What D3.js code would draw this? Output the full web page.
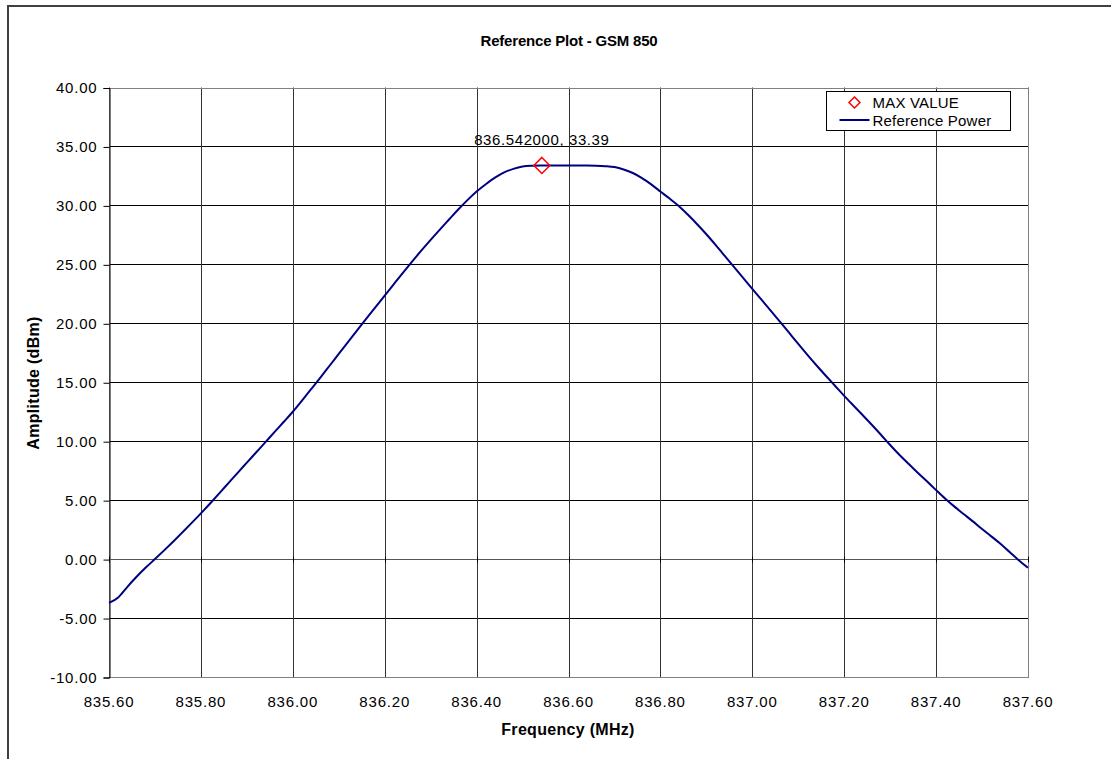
<!DOCTYPE html>
<html>
  <head>
    <meta charset="utf-8">
    <title>Reference Plot - GSM 850</title>
    <script src="https://d3js.org/d3.v7.min.js"></script>
    <style>
      body { margin: 0; background: #fff; }
      svg, svg text { font-family: "Liberation Sans", Arial, sans-serif; }
    </style>
  </head>
  <body>
    <script>
      // amplitude (dBm) every 0.02 MHz from 835.60 to 837.60
      const freqStart = 835.60;
      const freqStep = 0.02;
      const amplitude = [
        -3.72, -3.25, -2.35, -1.50, -0.72, 0.00, 0.74, 1.50, 2.28, 3.07,
        3.88, 4.72, 5.58, 6.45, 7.32, 8.18, 9.04, 9.90, 10.77, 11.63,
        12.50, 13.45, 14.42, 15.40, 16.40, 17.40, 18.40, 19.40, 20.40, 21.38,
        22.35, 23.33, 24.30, 25.25, 26.18, 27.08, 27.95, 28.80, 29.65, 30.45,
        31.18, 31.80, 32.35, 32.80, 33.10, 33.30, 33.37, 33.39, 33.38, 33.38,
        33.38, 33.38, 33.38, 33.37, 33.33, 33.25, 33.05, 32.75, 32.32, 31.78,
        31.18, 30.58, 29.95, 29.20, 28.40, 27.55, 26.65, 25.72, 24.78, 23.85,
        22.92, 22.00, 21.08, 20.15, 19.20, 18.25, 17.32, 16.42, 15.55, 14.70,
        13.85, 13.03, 12.22, 11.40, 10.55, 9.68, 8.85, 8.08, 7.33, 6.60,
        5.85, 5.12, 4.45, 3.82, 3.20, 2.55, 1.93, 1.30, 0.60, -0.10,
        -0.74
      ];
      const maxPoint = [836.542, 33.39];
      const xTicks = [835.6, 835.8, 836.0, 836.2, 836.4, 836.6, 836.8, 837.0, 837.2, 837.4, 837.6];
      const yTicks = [-10, -5, 0, 5, 10, 15, 20, 25, 30, 35, 40];

      const data = amplitude.map((v, i) => ({ f: freqStart + i * freqStep, v: v }));

      const W = 1111, H = 759;
      const plot = { left: 109, right: 1028, top: 87.5, bottom: 677 };
      const fmt2 = d => d.toFixed(2); // plain hyphen for negatives, like the original

      const svg = d3.select("body").append("svg")
        .attr("width", W)
        .attr("height", H);

      // outer chart border (runs off the right and bottom edges)
      svg.append("rect")
        .attr("x", 8).attr("y", 6)
        .attr("width", 1130).attr("height", 780)
        .attr("fill", "#fff")
        .attr("stroke", "#404040")
        .attr("stroke-width", 2);

      const x = d3.scaleLinear().domain([835.6, 837.6]).range([plot.left, plot.right]);
      const y = d3.scaleLinear().domain([-10, 40]).range([plot.bottom, plot.top]);

      // gridlines
      svg.append("g")
        .selectAll("line")
        .data(yTicks)
        .join("line")
        .attr("x1", plot.left).attr("x2", plot.right)
        .attr("y1", d => Math.round(y(d)) + 0.5).attr("y2", d => Math.round(y(d)) + 0.5)
        .attr("stroke", "#000");

      svg.append("g")
        .selectAll("line")
        .data(xTicks)
        .join("line")
        .attr("x1", d => Math.round(x(d)) + 0.5).attr("x2", d => Math.round(x(d)) + 0.5)
        .attr("y1", plot.top).attr("y2", plot.bottom)
        .attr("stroke", "#333");

      // plot area frame
      svg.append("rect")
        .attr("x", plot.left + 0.5).attr("y", Math.round(plot.top) + 0.5)
        .attr("width", plot.right - plot.left).attr("height", plot.bottom - Math.round(plot.top))
        .attr("fill", "none")
        .attr("stroke", "#808080");

      // Y axis
      const yAxis = svg.append("g")
        .attr("transform", "translate(" + (plot.left + 0.5) + ",0.5)")
        .call(d3.axisLeft(y).tickValues(yTicks).tickFormat(fmt2).tickSize(6).tickPadding(6));
      yAxis.attr("font-family", null);
      yAxis.select(".domain").attr("stroke", "#000");
      yAxis.selectAll("text")
        .attr("font-size", 15)
        .attr("letter-spacing", 0.8)
        .attr("fill", "#000");

      // X axis line crossing at 0 with cross ticks
      const xAxisY = Math.round(y(0)) + 0.5;
      svg.append("line")
        .attr("x1", plot.left).attr("x2", plot.right)
        .attr("y1", xAxisY).attr("y2", xAxisY)
        .attr("stroke", "#555");
      svg.append("g")
        .selectAll("line")
        .data(xTicks)
        .join("line")
        .attr("x1", d => Math.round(x(d)) + 0.5).attr("x2", d => Math.round(x(d)) + 0.5)
        .attr("y1", xAxisY - 3).attr("y2", xAxisY + 3)
        .attr("stroke", "#000");

      // X tick labels at bottom
      svg.append("g")
        .selectAll("text")
        .data(xTicks)
        .join("text")
        .attr("x", d => x(d))
        .attr("y", 707)
        .attr("text-anchor", "middle")
        .attr("font-size", 15)
        .attr("letter-spacing", 0.8)
        .text(fmt2);

      // titles
      svg.append("text")
        .attr("x", 569).attr("y", 46)
        .attr("text-anchor", "middle")
        .attr("font-size", 15).attr("font-weight", "bold")
        .attr("letter-spacing", -0.2)
        .text("Reference Plot - GSM 850");

      svg.append("text")
        .attr("x", 568).attr("y", 735)
        .attr("text-anchor", "middle")
        .attr("font-size", 16).attr("font-weight", "bold")
        .attr("letter-spacing", 0.3)
        .text("Frequency (MHz)");

      svg.append("text")
        .attr("transform", "translate(39,383) rotate(-90)")
        .attr("text-anchor", "middle")
        .attr("font-size", 16).attr("font-weight", "bold")
        .attr("letter-spacing", 0.3)
        .text("Amplitude (dBm)");

      // reference power curve
      const line = d3.line()
        .curve(d3.curveMonotoneX)
        .x(d => x(d.f))
        .y(d => y(d.v));

      svg.append("path")
        .datum(data)
        .attr("d", line)
        .attr("fill", "none")
        .attr("stroke", "#000080")
        .attr("stroke-width", 2);

      // max value marker
      const diamond = r => "M0," + (-r) + "L" + r + ",0L0," + r + "L" + (-r) + ",0Z";
      svg.append("path")
        .attr("transform", "translate(" + x(maxPoint[0]) + "," + y(maxPoint[1]) + ")")
        .attr("d", diamond(8))
        .attr("fill", "none")
        .attr("stroke", "#ff0000")
        .attr("stroke-width", 1.5);

      svg.append("text")
        .attr("x", x(maxPoint[0]))
        .attr("y", y(maxPoint[1]) - 20)
        .attr("text-anchor", "middle")
        .attr("font-size", 15)
        .attr("letter-spacing", 0.6)
        .text(maxPoint[0].toFixed(6) + ", " + fmt2(maxPoint[1]));

      // legend
      const legend = svg.append("g").attr("transform", "translate(826.5,91.5)");
      legend.append("rect")
        .attr("width", 184).attr("height", 39)
        .attr("fill", "#fff")
        .attr("stroke", "#000");
      legend.append("path")
        .attr("transform", "translate(28,11)")
        .attr("d", diamond(5.5))
        .attr("fill", "none")
        .attr("stroke", "#ff0000")
        .attr("stroke-width", 1.5);
      legend.append("text")
        .attr("x", 46).attr("y", 16.5)
        .attr("font-size", 15)
        .attr("letter-spacing", 0.2)
        .text("MAX VALUE");
      legend.append("line")
        .attr("x1", 13).attr("x2", 43)
        .attr("y1", 28.5).attr("y2", 28.5)
        .attr("stroke", "#000080")
        .attr("stroke-width", 2);
      legend.append("text")
        .attr("x", 46).attr("y", 34.5)
        .attr("font-size", 15)
        .attr("letter-spacing", 0.2)
        .text("Reference Power");
    </script>
  </body>
</html>
